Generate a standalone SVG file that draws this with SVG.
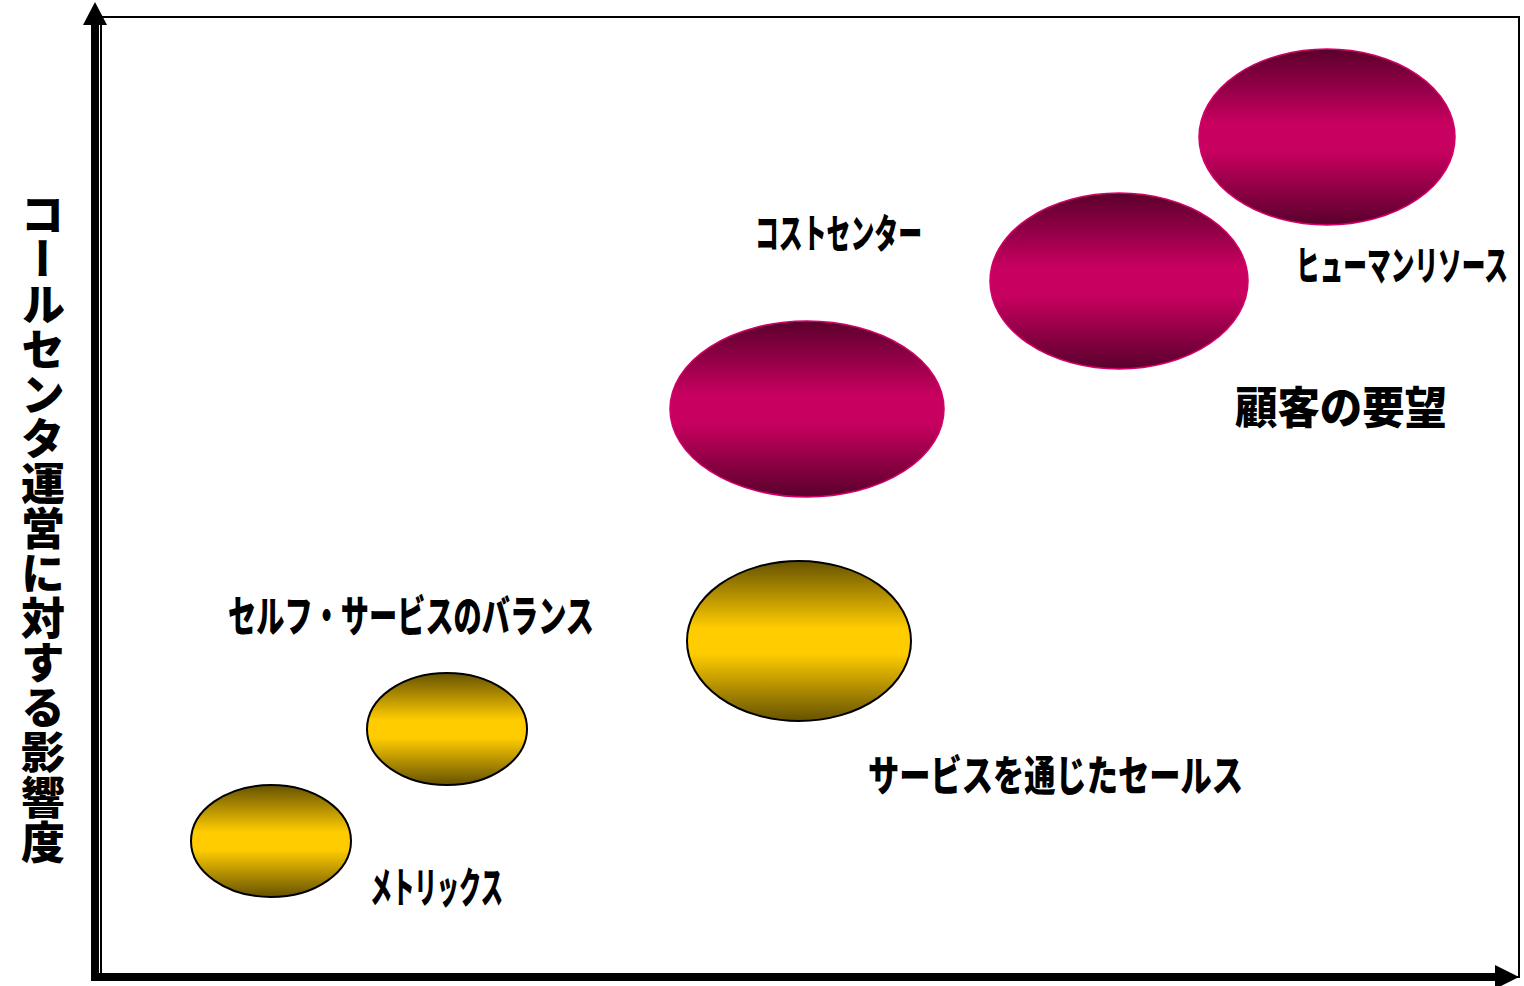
<svg xmlns="http://www.w3.org/2000/svg" width="1524" height="986" viewBox="0 0 1524 986">
<defs>
<linearGradient id="mag" x1="0" y1="0" x2="0" y2="1">
<stop offset="0" stop-color="#5a002c"/>
<stop offset="0.42" stop-color="#c80060"/>
<stop offset="0.58" stop-color="#c80060"/>
<stop offset="1" stop-color="#5a002c"/>
</linearGradient>
<linearGradient id="gold" x1="0" y1="0" x2="0" y2="1">
<stop offset="0" stop-color="#665200"/>
<stop offset="0.42" stop-color="#ffcc00"/>
<stop offset="0.58" stop-color="#ffcc00"/>
<stop offset="1" stop-color="#665200"/>
</linearGradient>
<style>
.m{fill:url(#mag);stroke:#d4006a;stroke-width:1.5}
.g{fill:url(#gold);stroke:#000;stroke-width:2}
.t{font-family:"Noto Sans CJK JP","Noto Sans",sans-serif;font-weight:900;fill:#000}
.ax{stroke:#000;stroke-width:8;fill:none}
</style>
</defs>
<rect width="1524" height="986" fill="#fff"/>
<g id="frame">
<rect x="101" y="17" width="1418" height="960" fill="none" stroke="#000" stroke-width="2"/>
</g>
<g id="connectors">
<line class="ax" x1="95" y1="980" x2="95" y2="22"/>
<polygon points="83,25 107,25 95,2" fill="#000"/>
<line class="ax" x1="91" y1="977" x2="1498" y2="977"/>
<polygon points="1495,965 1495,989 1519,977" fill="#000"/>
</g>
<g id="axis-label">
<text class="t" x="43" y="192" font-size="44" style="writing-mode:vertical-rl" textLength="672" lengthAdjust="spacingAndGlyphs">コールセンタ運営に対する影響度</text>
</g>
<g id="node-human"><ellipse class="m" cx="1327" cy="137" rx="128" ry="88"/></g>
<g id="node-customer"><ellipse class="m" cx="1119" cy="281" rx="129" ry="88"/></g>
<g id="node-cost"><ellipse class="m" cx="807" cy="409" rx="137" ry="88"/></g>
<g id="node-sales"><ellipse class="g" cx="799" cy="641" rx="112" ry="80"/></g>
<g id="node-self"><ellipse class="g" cx="447" cy="729" rx="80" ry="56"/></g>
<g id="node-metrics"><ellipse class="g" cx="271" cy="841" rx="80" ry="56"/></g>
<g id="labels">
<text class="t" x="755" y="248" font-size="40" textLength="167" lengthAdjust="spacingAndGlyphs">コストセンター</text>
<text class="t" x="1296" y="280" font-size="40" textLength="212" lengthAdjust="spacingAndGlyphs">ヒューマンリソース</text>
<text class="t" x="1235" y="424" font-size="44" textLength="212" lengthAdjust="spacingAndGlyphs">顧客の要望</text>
<text class="t" x="228" y="632" font-size="43" textLength="366" lengthAdjust="spacingAndGlyphs">セルフ・サービスのバランス</text>
<text class="t" x="868" y="791" font-size="42" textLength="375" lengthAdjust="spacingAndGlyphs">サービスを通じたセールス</text>
<text class="t" x="370" y="903" font-size="42" textLength="133" lengthAdjust="spacingAndGlyphs">メトリックス</text>
</g>
</svg>
